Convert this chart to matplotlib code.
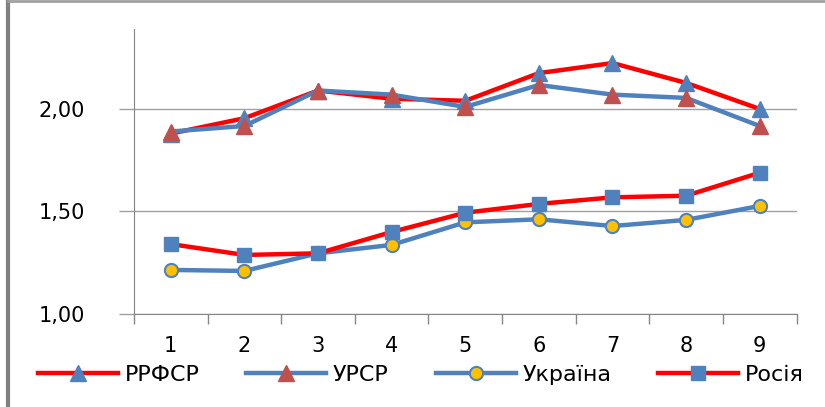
import matplotlib.pyplot as plt
from matplotlib.lines import Line2D

plt.rcParams['font.family'] = ['DejaVu Sans']

periods = ['1', '2', '3', '4', '5', '6', '7', '8', '9']
rrfsr = [1.88, 1.955, 2.09, 2.05, 2.04, 2.175, 2.224, 2.127, 2.00]
ursr = [1.89, 1.917, 2.09, 2.07, 2.01, 2.117, 2.07, 2.054, 1.917]
ukraina = [1.215, 1.21, 1.296, 1.337, 1.447, 1.462, 1.429, 1.459, 1.527]
rosiia = [1.341, 1.288, 1.296, 1.40, 1.494, 1.537, 1.569, 1.577, 1.689]

yticks = [1.00, 1.50, 2.00]
ytick_labels = ['1,00', '1,50', '2,00']

red = '#FF0000'
blue = '#4F81BD'
brown = '#C0504D'
yellow = '#FFC000'

fig = plt.figure(figsize=(8.25, 4.07), dpi=100)
ax = fig.add_axes([0.1624, 0.2285, 0.8031, 0.7002])

x = list(range(len(periods)))
ax.plot(x, rrfsr, color=red, lw=3.2, marker='^', ms=11, mfc=blue, mec=blue, zorder=3)
ax.plot(x, ursr, color=blue, lw=3.2, marker='^', ms=11, mfc=brown, mec=brown, zorder=4)
ax.plot(x, ukraina, color=blue, lw=3.2, marker='o', ms=9.5, mfc=yellow, mec=blue, mew=1.5, zorder=3)
ax.plot(x, rosiia, color=red, lw=3.2, marker='s', ms=10, mfc=blue, mec=blue, zorder=4)

ax.set_xlim(-0.5, len(periods) - 0.5)
ax.set_ylim(1.0, 2.39)
ax.set_xticks([i - 0.5 for i in range(len(periods) + 1)])
ax.set_xticklabels([])
ax.set_xticks(x, minor=True)
ax.set_xticklabels(periods, minor=True)
ax.tick_params(axis='x', which='major', length=7, width=1, color='#868686', direction='out')
ax.tick_params(axis='x', which='minor', length=0, pad=16, labelsize=15)
ax.set_yticks(yticks)
ax.set_yticklabels(ytick_labels)
ax.tick_params(axis='y', length=11, width=1, color='#A0A0A0', pad=24, labelsize=15)

ax.grid(axis='y', color='#A0A0A0', lw=1)
ax.set_axisbelow(True)
for s in ['top', 'right']:
    ax.spines[s].set_visible(False)
ax.spines['left'].set_color('#868686')
ax.spines['bottom'].set_color('#868686')

handles = [
    Line2D([], [], color=red, lw=3.2, marker='^', ms=11, mfc=blue, mec=blue),
    Line2D([], [], color=blue, lw=3.2, marker='^', ms=11, mfc=brown, mec=brown),
    Line2D([], [], color=blue, lw=3.2, marker='o', ms=9.5, mfc=yellow, mec=blue, mew=1.5),
    Line2D([], [], color=red, lw=3.2, marker='s', ms=10, mfc=blue, mec=blue),
]
labels = ['РРФСР', 'УРСР', 'Україна', 'Росія']
fig.legend(handles, labels, loc='center left', bbox_to_anchor=(0.035, 0.079, 0.95, 0),
           ncol=4, mode='expand', frameon=False, fontsize=16, handlelength=3.6,
           handletextpad=0.3, borderaxespad=0)

# frame lines of the picture
fig.add_artist(Line2D([0.0097, 0.0097], [0, 0.9975], color='#808080', lw=3))
fig.add_artist(Line2D([0.0097, 1], [0.9975, 0.9975], color='#A0A0A0', lw=2))

fig.savefig('out.png', dpi=100)
